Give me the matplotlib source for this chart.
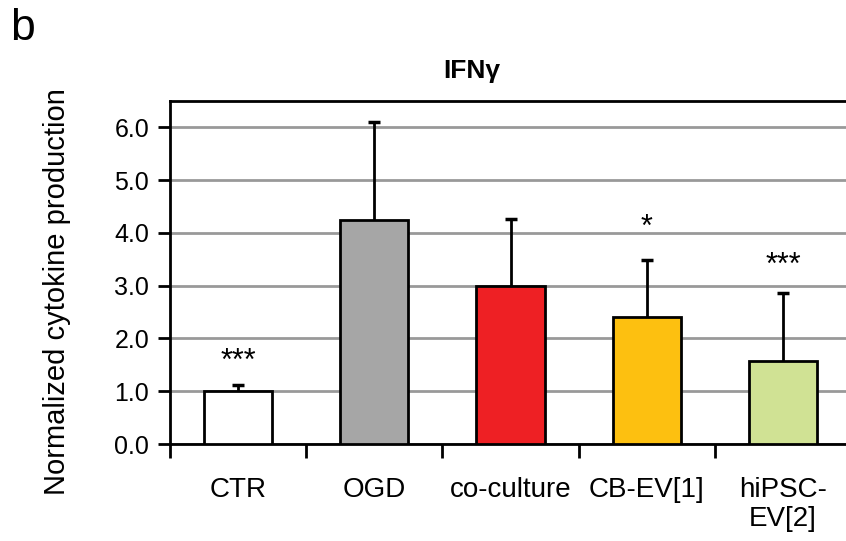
import matplotlib.pyplot as plt

categories = ["CTR", "OGD", "co-culture", "CB-EV[1]", "hiPSC-\nEV[2]"]
means = [1.0, 4.24, 2.99, 2.41, 1.58]
errors = [0.12, 1.86, 1.27, 1.08, 1.28]
stars = ["***", "", "", "*", "***"]
star_y = [1.55, 0, 0, 4.1, 3.37]
colors = ["#ffffff", "#a6a6a6", "#ee2024", "#fdc010", "#d0e294"]

plt.rcParams["font.family"] = ["Liberation Sans", "DejaVu Sans"]

fig = plt.figure(figsize=(8.46, 5.41), dpi=100)
ax = fig.add_axes([170 / 846, 1 - 444 / 541, 681 / 846, 343 / 541])

x = list(range(len(categories)))
ax.bar(x, means, width=0.5, color=colors, edgecolor="black", linewidth=2, zorder=3)
_, caps, _ = ax.errorbar(x, means, yerr=[[0] * len(errors), errors], fmt="none", ecolor="black",
                         elinewidth=2, capsize=4, capthick=2.5, zorder=4)
# only the upper cap is shown
caps[0].set_visible(False)
for i, s in enumerate(stars):
    if s:
        ax.text(i, star_y[i], s, ha="center", va="center", fontsize=22)

ax.set_xlim(-0.5, 4.5)
ax.set_ylim(0, 6.5)
ax.set_yticks([0, 1, 2, 3, 4, 5, 6])
ax.set_yticklabels(["%.1f" % v for v in [0, 1, 2, 3, 4, 5, 6]], fontsize=18)
ax.yaxis.grid(True, color="#999999", linewidth=2, zorder=0)
ax.set_axisbelow(True)

ax.set_xticks([i + 0.5 for i in range(-1, 4)])
ax.set_xticklabels([])
ax.set_xticks(x, minor=True)
ax.set_xticklabels(categories, minor=True, fontsize=20, linespacing=1.12)
ax.tick_params(axis="x", which="major", length=10, width=2, direction="out")
ax.tick_params(axis="x", which="minor", length=0, pad=24)
ax.tick_params(axis="y", length=9, width=2, direction="out", pad=6)
for sp in ax.spines.values():
    sp.set_linewidth(2)

fig.text(57 / 846, 1 - 292 / 541, "Normalized cytokine production", rotation=90,
         ha="center", va="center", fontsize=21)
fig.text(472 / 846, 1 - 71 / 541, "IFNγ", ha="center", va="center", fontsize=19, fontweight="bold")
fig.text(10 / 846, 1 - 28 / 541, "b", ha="left", va="center", fontsize=32)

plt.savefig("out.png", dpi=100)
